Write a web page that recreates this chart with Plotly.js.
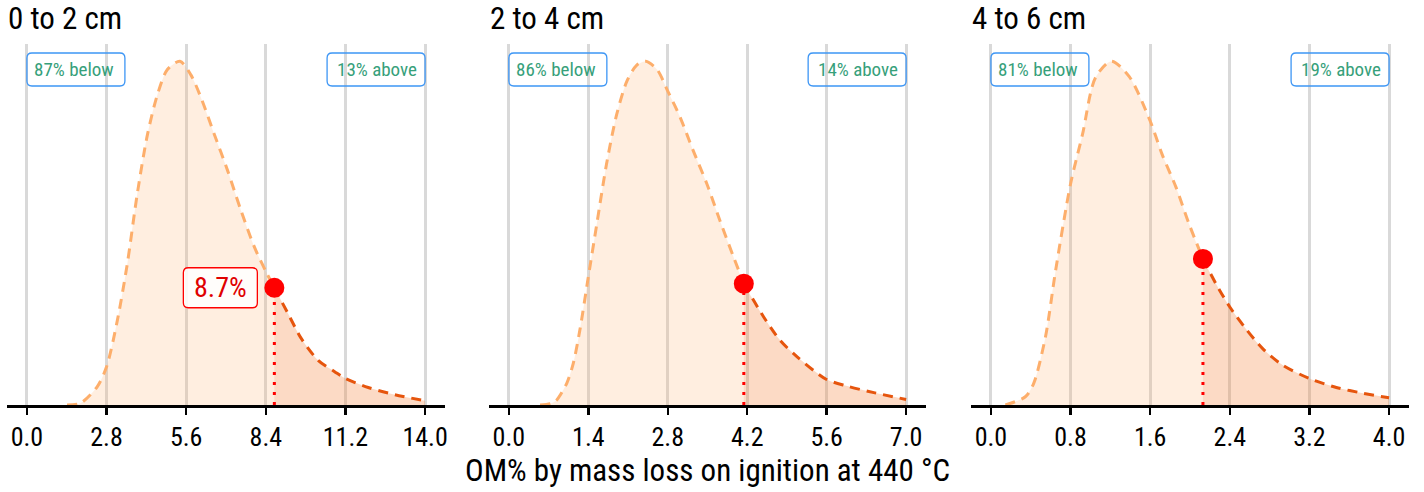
<!DOCTYPE html>
<html>
<head>
<meta charset="utf-8">
<script src="https://cdn.plot.ly/plotly-3.0.1.min.js"></script>
<style>html,body{margin:0;padding:0;background:#fff;}#chart{width:1424px;height:492px;}</style>
</head>
<body>
<div id="chart"></div>
<script>
// ---- data ----
const panelTitles = ['0 to 2 cm', '2 to 4 cm', '4 to 6 cm'];
const pctBelow = [87, 86, 81];
const pctAbove = [13, 14, 19];
const axisMax = [14.0, 7.0, 4.0];
const tickVals1 = [0.0, 2.8, 5.6, 8.4, 11.2, 14.0];
const tickVals2 = [0.0, 1.4, 2.8, 4.2, 5.6, 7.0];
const tickVals3 = [0.0, 0.8, 1.6, 2.4, 3.2, 4.0];

// scaled density curves (peak = 1)
const x1 = [1.41, 1.88, 2.47, 2.8, 3.18, 3.53, 3.88, 4.24, 4.59, 4.94, 5.38, 5.76, 6.12, 6.59, 7.06, 7.53, 8.0, 8.41, 9.18, 9.65, 10.24, 10.82, 11.2, 12.0, 12.94, 14.0];
const y1 = [0, 0.005, 0.053, 0.111, 0.246, 0.411, 0.614, 0.787, 0.903, 0.976, 1.0, 0.961, 0.894, 0.787, 0.681, 0.565, 0.459, 0.387, 0.266, 0.193, 0.130, 0.097, 0.077, 0.051, 0.030, 0.012];
const x2 = [0.55, 0.75, 0.84, 1.02, 1.135, 1.25, 1.39, 1.55, 1.72, 1.9, 2.08, 2.25, 2.41, 2.61, 2.8, 3.02, 3.25, 3.49, 3.72, 3.96, 4.49, 4.78, 5.08, 5.59, 5.96, 6.43, 7.0];
const y2 = [0, 0.005, 0.014, 0.063, 0.121, 0.217, 0.362, 0.527, 0.700, 0.845, 0.942, 0.988, 1.0, 0.976, 0.913, 0.836, 0.739, 0.643, 0.536, 0.430, 0.256, 0.188, 0.140, 0.075, 0.055, 0.036, 0.016];
const x3 = [0.145, 0.346, 0.43, 0.548, 0.65, 0.8, 0.92, 1.05, 1.21, 1.39, 1.6, 1.72, 1.86, 1.99, 2.26, 2.4, 2.56, 2.73, 2.93, 3.2, 3.47, 3.74, 4.0];
const y3 = [0, 0.024, 0.063, 0.198, 0.391, 0.643, 0.787, 0.952, 1.0, 0.955, 0.826, 0.729, 0.633, 0.527, 0.353, 0.285, 0.222, 0.164, 0.116, 0.077, 0.051, 0.034, 0.021];

// observed sample value (marker) and its density
const markX = [8.7, 4.14, 2.13];
const markY = [0.341, 0.353, 0.425];
const markLabel = ['8.7%', null, null];

const xTitle = 'OM% by mass loss on ignition at 440 °C';

// ---- styling ----
const FONT = '"Roboto Condensed", "Liberation Sans Narrow", "Arial Narrow", "DejaVu Sans Condensed", Roboto, sans-serif';
const W = 1424;
const domainsPx = [[7, 445], [489, 926], [971, 1409]];
const lightLine = '#FDAE6B', darkLine = '#E6550D';
const lightFill = 'rgba(253,174,107,0.21)', darkFill = 'rgba(230,85,13,0.13)';
const boxBlue = '#3D96F5', pctColor = '#36A07A';

const curves = [[x1, y1], [x2, y2], [x3, y3]];
const ticks = [tickVals1, tickVals2, tickVals3];

const traces = [];
const layout = {
  width: 1424, height: 492,
  margin: {l: 0, r: 0, t: 44, b: 87},
  paper_bgcolor: '#fff', plot_bgcolor: '#fff',
  showlegend: false,
  font: {family: FONT, color: '#000'},
  annotations: [], shapes: []
};

function rr(x0, y0, x1, y1, r) {
  // pixel coords, y up; y1 top, y0 bottom
  return `M${x0 + r},${y1} L${x1 - r},${y1} Q${x1},${y1} ${x1},${y1 - r} L${x1},${y0 + r} Q${x1},${y0} ${x1 - r},${y0} L${x0 + r},${y0} Q${x0},${y0} ${x0},${y0 + r} L${x0},${y1 - r} Q${x0},${y1} ${x0 + r},${y1} Z`;
}

for (let i = 0; i < 3; i++) {
  const xs = curves[i][0], ys = curves[i][1];
  const mx = markX[i], my = markY[i];
  const ax = i === 0 ? 'x' : 'x' + (i + 1);
  const ay = i === 0 ? 'y' : 'y' + (i + 1);
  const bx = [], by = [], tx = [mx], ty = [my];
  xs.forEach((v, k) => { if (v < mx) { bx.push(v); by.push(ys[k]); } else { tx.push(v); ty.push(ys[k]); } });
  bx.push(mx); by.push(my);
  const allX = bx.concat(tx.slice(1)), allY = by.concat(ty.slice(1));
  const common = {xaxis: ax, yaxis: ay, hoverinfo: 'skip', mode: 'lines'};
  traces.push(Object.assign({}, common, {x: allX, y: allY, fill: 'tozeroy', fillcolor: lightFill, line: {width: 0, shape: 'spline', smoothing: 0.8}}));
  traces.push(Object.assign({}, common, {x: tx, y: ty, fill: 'tozeroy', fillcolor: darkFill, line: {width: 0, shape: 'spline', smoothing: 0.8}}));
  traces.push(Object.assign({}, common, {x: bx, y: by, line: {color: lightLine, width: 3, dash: '10px,7px', shape: 'spline', smoothing: 0.8}}));
  traces.push(Object.assign({}, common, {x: tx, y: ty, line: {color: darkLine, width: 3, dash: '10px,7px', shape: 'spline', smoothing: 0.8}}));
  traces.push(Object.assign({}, common, {x: [mx, mx], y: [0, my], line: {color: '#FF0000', width: 3, dash: '3px,7px'}}));
  traces.push({xaxis: ax, yaxis: ay, hoverinfo: 'skip', x: [mx], y: [my], mode: 'markers', marker: {color: '#FF0000', size: 20}});

  const dom = domainsPx[i];
  const xmax = axisMax[i];
  const pad = xmax * 0.05;
  const tv = ticks[i];
  layout['xaxis' + (i === 0 ? '' : i + 1)] = {
    domain: [dom[0] / W, dom[1] / W], anchor: ay,
    range: [-pad, xmax + pad], fixedrange: true,
    tickvals: tv, ticktext: tv.map(v => v.toFixed(1)),
    tickfont: {size: 26, color: '#000', family: FONT},
    ticks: 'outside', ticklen: 7, tickwidth: 2.5, tickcolor: '#000',
    showline: true, linecolor: '#000', linewidth: 2.5,
    showgrid: true, gridcolor: '#D9D9D9', gridwidth: 3, zeroline: false
  };
  layout['yaxis' + (i === 0 ? '' : i + 1)] = {
    domain: [0, 1], anchor: ax, range: [0, 1.05], visible: false, fixedrange: true
  };

  // panel title
  layout.annotations.push({xref: 'paper', yref: 'paper', x: dom[0] / W, y: 1, xanchor: 'left', yanchor: 'middle',
    xshift: -1, yshift: 26, showarrow: false, text: panelTitles[i], font: {size: 31, color: '#000', family: FONT}});

  // below / above boxes
  layout.shapes.push({type: 'path', xref: ax, yref: 'paper', xsizemode: 'pixel', ysizemode: 'pixel',
    xanchor: 0, yanchor: 1, path: rr(0, -42, 98, -9, 5), line: {color: boxBlue, width: 1.3}, fillcolor: 'rgba(255,255,255,0)'});
  layout.shapes.push({type: 'path', xref: ax, yref: 'paper', xsizemode: 'pixel', ysizemode: 'pixel',
    xanchor: xmax, yanchor: 1, path: rr(-98, -42, 0, -9, 5), line: {color: boxBlue, width: 1.3}, fillcolor: 'rgba(255,255,255,0)'});
  layout.annotations.push({xref: ax, yref: 'paper', x: 0, y: 1, xanchor: 'left', yanchor: 'middle', xshift: 5, yshift: -25.5,
    showarrow: false, text: pctBelow[i] + '% below', font: {size: 19, color: pctColor, family: FONT}});
  layout.annotations.push({xref: ax, yref: 'paper', x: xmax, y: 1, xanchor: 'right', yanchor: 'middle', xshift: -6, yshift: -25.5,
    showarrow: false, text: pctAbove[i] + '% above', font: {size: 19, color: pctColor, family: FONT}});

  if (markLabel[i]) {
    layout.shapes.push({type: 'path', xref: ax, yref: ay, xsizemode: 'pixel', ysizemode: 'pixel',
      xanchor: mx, yanchor: my, path: rr(-91, -20, -17, 20, 5), line: {color: '#FF0000', width: 1.3}, fillcolor: 'rgba(255,255,255,0.85)'});
    layout.annotations.push({xref: ax, yref: ay, x: mx, y: my, xanchor: 'center', yanchor: 'middle', xshift: -54,
      showarrow: false, text: markLabel[i], font: {size: 28, color: '#E00000', family: FONT}});
  }
}

layout.annotations.push({xref: 'paper', yref: 'paper', x: 707.5 / W, y: 0, xanchor: 'center', yanchor: 'bottom', yshift: -86,
  showarrow: false, text: xTitle, font: {size: 31, color: '#000', family: FONT}});

Plotly.newPlot('chart', traces, layout, {displayModeBar: false, staticPlot: true});
</script>
</body>
</html>
